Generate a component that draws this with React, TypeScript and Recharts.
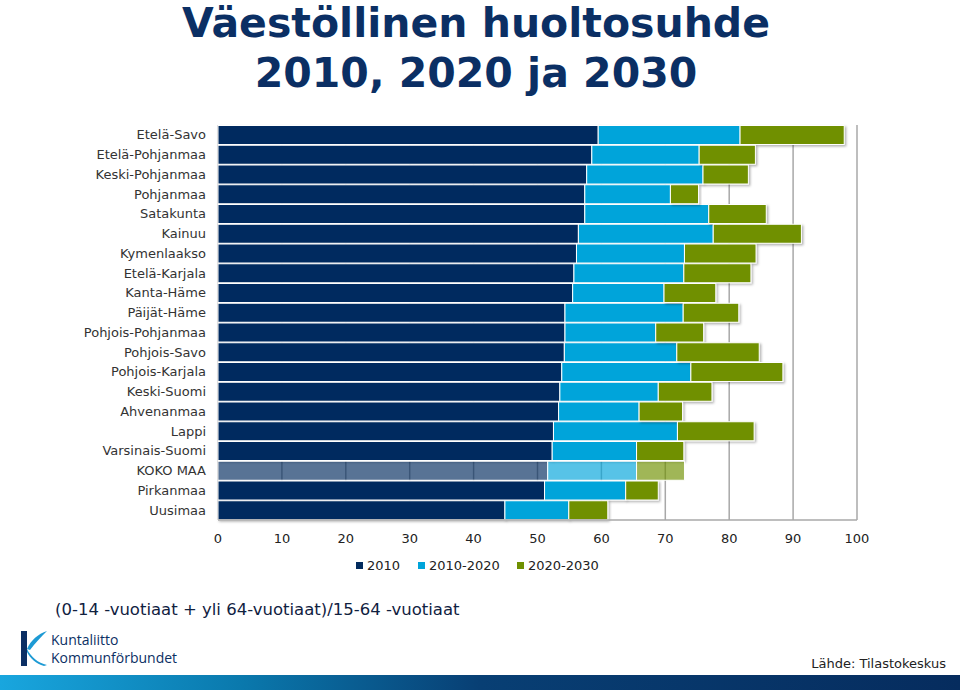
import React from "react";
import { BarChart, Bar, XAxis, YAxis, CartesianGrid } from "recharts";

const regions = [
  "Etelä-Savo",
  "Etelä-Pohjanmaa",
  "Keski-Pohjanmaa",
  "Pohjanmaa",
  "Satakunta",
  "Kainuu",
  "Kymenlaakso",
  "Etelä-Karjala",
  "Kanta-Häme",
  "Päijät-Häme",
  "Pohjois-Pohjanmaa",
  "Pohjois-Savo",
  "Pohjois-Karjala",
  "Keski-Suomi",
  "Ahvenanmaa",
  "Lappi",
  "Varsinais-Suomi",
  "KOKO MAA",
  "Pirkanmaa",
  "Uusimaa",
];

// dependency ratio per year
const ratio2010 = [59.5, 58.5, 57.7, 57.4, 57.4, 56.4, 56.1, 55.7, 55.5, 54.3, 54.3, 54.2, 53.8, 53.5, 53.3, 52.5, 52.3, 51.6, 51.1, 44.9];
const ratio2020 = [81.7, 75.3, 75.9, 70.8, 76.8, 77.5, 73.0, 72.9, 69.8, 72.8, 68.5, 71.8, 74.0, 68.9, 65.9, 71.9, 65.5, 65.5, 63.8, 54.9];
const ratio2030 = [98.0, 84.1, 83.0, 75.2, 85.8, 91.3, 84.2, 83.4, 77.9, 81.5, 76.0, 84.7, 88.4, 77.3, 72.7, 83.9, 72.9, 73.0, 68.9, 61.0];

const xTicks = [0, 10, 20, 30, 40, 50, 60, 70, 80, 90, 100];
const seriesNames = ["2010", "2010-2020", "2020-2030"];

const COLORS = ["#022b5e", "#00a4da", "#6f9000"];
const TOTAL_LABEL = "KOKO MAA";

const data = regions.map((r, i) => ({
  name: r,
  a: ratio2010[i],
  b: +(ratio2020[i] - ratio2010[i]).toFixed(2),
  c: +(ratio2030[i] - ratio2020[i]).toFixed(2),
}));

const FONT = "'DejaVu Sans', Verdana, sans-serif";

const makeShape = (color: string) => (props: any) => {
  const { x, y, width, height, payload } = props;
  if (!width || width <= 0) return <g />;
  const faded = payload && payload.name === TOTAL_LABEL;
  return (
    <rect
      x={x}
      y={y}
      width={width}
      height={height}
      fill={color}
      fillOpacity={faded ? 0.66 : 1}
      stroke="#ffffff"
      strokeWidth={1}
      filter={faded ? undefined : "url(#barShadow)"}
    />
  );
};

export default function App() {
  return (
    <div
      style={{
        position: "absolute",
        left: 0,
        top: 0,
        width: 960,
        height: 690,
        overflow: "hidden",
        background: "#ffffff",
        fontFamily: FONT,
      }}
    >
      <svg width={0} height={0} style={{ position: "absolute" }}>
        <defs>
          <filter id="barShadow" x="-5%" y="-20%" width="115%" height="160%">
            <feDropShadow dx="1.5" dy="1.5" stdDeviation="1" floodColor="#000" floodOpacity="0.3" />
          </filter>
          <linearGradient id="footGrad" x1="0" y1="0" x2="1" y2="0">
            <stop offset="0" stopColor="#19a6de" />
            <stop offset="0.25" stopColor="#0a79ad" />
            <stop offset="0.5" stopColor="#083f74" />
            <stop offset="1" stopColor="#062c5e" />
          </linearGradient>
        </defs>
      </svg>

      <div
        style={{
          position: "absolute",
          left: 0,
          top: -2,
          width: 952,
          textAlign: "center",
          fontFamily: FONT,
          fontWeight: "bold",
          fontSize: 41,
          lineHeight: "50px",
          color: "#0b2f64",
        }}
      >
        Väestöllinen huoltosuhde
        <br />
        2010, 2020 ja 2030
      </div>

      <div style={{ position: "absolute", left: 0, top: 0 }}>
        <BarChart
          width={960}
          height={560}
          data={data}
          layout="vertical"
          margin={{ top: 125, right: 103, left: 0, bottom: 0 }}
          barCategoryGap={0.5}
        >
          <CartesianGrid horizontal={false} vertical={true} stroke="#a8a8a8" strokeWidth={1.5} />
          <XAxis
            type="number"
            domain={[0, 100]}
            ticks={xTicks}
            interval={0}
            height={40}
            axisLine={{ stroke: "#a8a8a8", strokeWidth: 1.5 }}
            tickLine={false}
            tickMargin={8}
            tick={{ fontSize: 13, fill: "#222", fontFamily: FONT }}
          />
          <YAxis
            type="category"
            dataKey="name"
            width={218}
            interval={0}
            axisLine={false}
            tickLine={false}
            tickMargin={6}
            tick={{ fontSize: 13, fill: "#333", fontFamily: FONT }}
          />
          <Bar dataKey="a" name={seriesNames[0]} stackId="s" fill={COLORS[0]} isAnimationActive={false} shape={makeShape(COLORS[0])} />
          <Bar dataKey="b" name={seriesNames[1]} stackId="s" fill={COLORS[1]} isAnimationActive={false} shape={makeShape(COLORS[1])} />
          <Bar dataKey="c" name={seriesNames[2]} stackId="s" fill={COLORS[2]} isAnimationActive={false} shape={makeShape(COLORS[2])} />
        </BarChart>
      </div>

      {/* legend */}
      <div style={{ position: "absolute", left: 0, top: 558, width: 960, height: 18, fontSize: 13, color: "#222" }}>
        {seriesNames.map((n, i) => {
          const lefts = [356, 418, 517];
          return (
            <div key={n} style={{ position: "absolute", left: lefts[i], top: 0, whiteSpace: "nowrap", lineHeight: "16px" }}>
              <span
                style={{
                  display: "inline-block",
                  width: 7,
                  height: 7,
                  background: COLORS[i],
                  marginRight: 4,
                  verticalAlign: "1px",
                }}
              />
              {n}
            </div>
          );
        })}
      </div>

      <div style={{ position: "absolute", left: 55, top: 600, fontSize: 16.5, color: "#10213f", whiteSpace: "nowrap" }}>
        (0-14 -vuotiaat + yli 64-vuotiaat)/15-64 -vuotiaat
      </div>

      {/* logo */}
      <svg width={200} height={50} style={{ position: "absolute", left: 0, top: 624 }}>
        <rect x={21} y={7} width={6} height={35} fill="#0b2f64" />
        <path d="M27 25 C 31 16, 38 10, 47 7 C 41 13, 35 19, 30 26 Z" fill="#1d9ad4" />
        <path d="M27 25 C 31 33, 38 39, 47 41 L 44 42 C 36 40, 30 34, 27 28 Z" fill="#1d9ad4" />
      </svg>
      <div
        style={{
          position: "absolute",
          left: 51,
          top: 631,
          fontFamily: "'Open Sans', sans-serif",
          fontSize: 14,
          lineHeight: "18px",
          color: "#0b2f64",
        }}
      >
        Kuntaliitto
        <br />
        Kommunförbundet
      </div>

      <div style={{ position: "absolute", right: 14, top: 656, fontSize: 13, color: "#222", whiteSpace: "nowrap" }}>
        Lähde: Tilastokeskus
      </div>

      <svg width={960} height={16} style={{ position: "absolute", left: 0, top: 675 }}>
        <rect x={0} y={0} width={960} height={16} fill="url(#footGrad)" />
      </svg>
    </div>
  );
}
